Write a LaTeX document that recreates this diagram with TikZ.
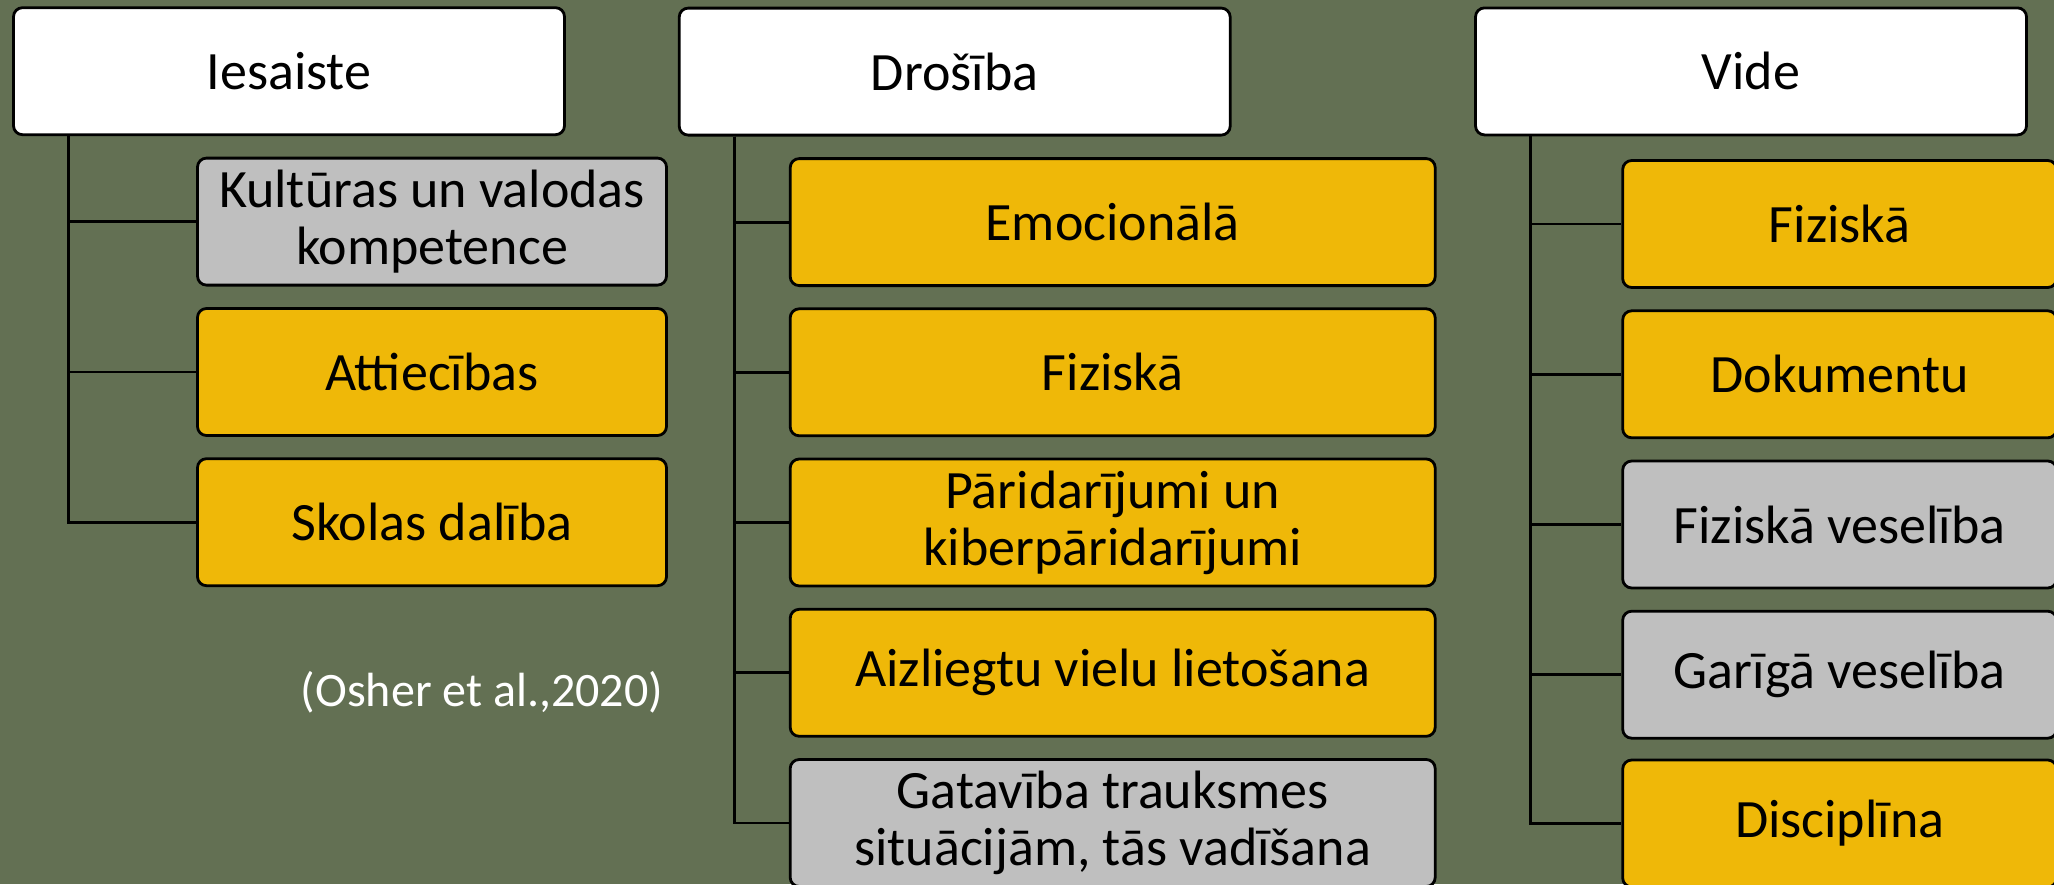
\documentclass[tikz,border=0pt]{standalone}
\usepackage{fontspec}
\setmainfont{Carlito}
\definecolor{bgolive}{RGB}{99,112,83}
\definecolor{goldfill}{RGB}{239,184,8}
\definecolor{greyfill}{RGB}{191,191,191}
\begin{document}
\begin{tikzpicture}[x=1pt,y=-1pt,
  box/.style={draw=black, line width=2.8pt, rounded corners=9pt, inner sep=0pt,
    align=center, text=black, font=\fontsize{54}{57}\selectfont, minimum height=127pt},
  headbox/.style={box, fill=white, minimum width=551pt},
  leftbox/.style={box, minimum width=469pt},
  midbox/.style={box, minimum width=645pt},
  rightbox/.style={box, minimum width=434pt},
  goldbox/.style={fill=goldfill},
  greybox/.style={fill=greyfill},
  conn/.style={draw=black, line width=2.8pt}]
\useasboundingbox (0,0) rectangle (2054,884);
\fill[bgolive] (0,0) rectangle (2054,884);
\clip (0,0) rectangle (2054,884);

% headers
\node[headbox] (h1) at (289,71.2) {Iesaiste};
\node[headbox] (h2) at (954.7,71.6) {Drošība};
\node[headbox] (h3) at (1751,71.4) {Vide};

% left column
\node[leftbox,greybox] (a1) at (432,221.6) {Kultūras un valodas\\kompetence};
\node[leftbox,goldbox] (a2) at (432,372) {Attiecības};
\node[leftbox,goldbox] (a3) at (432,522.2) {Skolas dalība};

% middle column
\node[midbox,goldbox] (b1) at (1112.7,222.1) {Emocionālā};
\node[midbox,goldbox] (b2) at (1112.7,372.3) {Fiziskā};
\node[midbox,goldbox] (b3) at (1112.7,522.5) {Pāridarījumi un\\kiberpāridarījumi};
\node[midbox,goldbox] (b4) at (1112.7,672.8) {Aizliegtu vielu lietošana};
\node[midbox,greybox] (b5) at (1112.7,823) {Gatavība trauksmes\\situācijām, tās vadīšana};

% right column
\node[rightbox,goldbox] (c1) at (1839.7,224) {Fiziskā};
\node[rightbox,goldbox] (c2) at (1839.7,374.3) {Dokumentu};
\node[rightbox,greybox] (c3) at (1839.7,524.5) {Fiziskā veselība};
\node[rightbox,greybox] (c4) at (1839.7,674.7) {Garīgā veselība};
\node[rightbox,goldbox] (c5) at (1839.7,823.5) {Disciplīna};

% citation
\node[font=\fontsize{48}{52}\selectfont, text=white, anchor=base, inner sep=0pt] (cite) at (482,706.7) {(Osher et al.,2020)};

% connectors
\coordinate (s1) at (68.3,0);
\coordinate (s2) at (734.5,0);
\coordinate (s3) at (1530.1,0);
\foreach \n in {a1,a2,a3} \draw[conn] (h1.south -| s1) |- (\n.west);
\foreach \n in {b1,b2,b3,b4,b5} \draw[conn] (h2.south -| s2) |- (\n.west);
\foreach \n in {c1,c2,c3,c4,c5} \draw[conn] (h3.south -| s3) |- (\n.west);
\end{tikzpicture}
\end{document}
